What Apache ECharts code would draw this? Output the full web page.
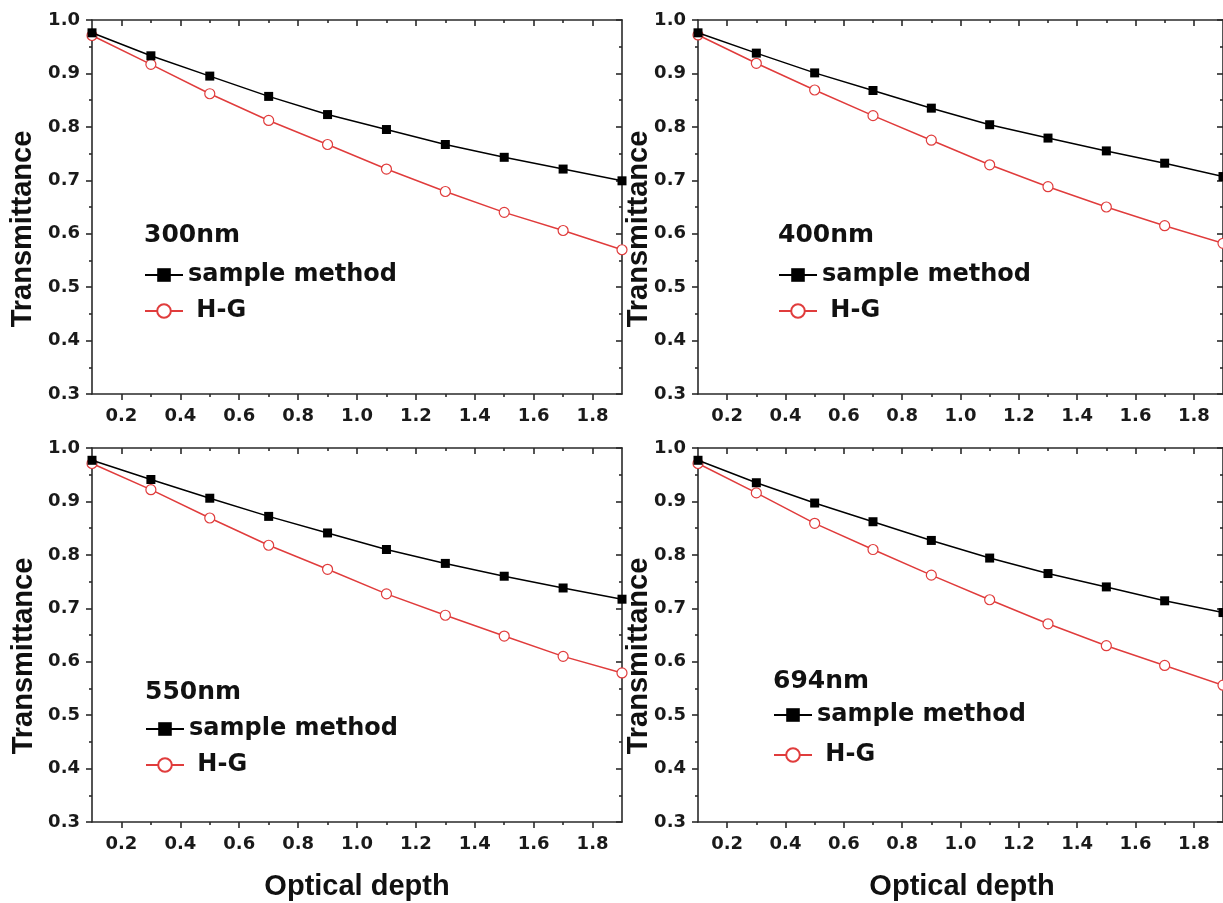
<!DOCTYPE html>
<html>
<head>
    <meta charset="utf-8">
    <title>Transmittance vs optical depth</title>
    <script src="https://cdn.jsdelivr.net/npm/echarts@6.0.0/dist/echarts.min.js"></script>
    <style>
        * {
          margin: 0;
          padding: 0;
        }
        body {
            background-color: #fff;
        }
        #main {
            width: 1223px;
            height: 903px;
        }
    </style>
</head>
<body>
<div id="main"></div>
<script>
    // optical depth values where the points sit
    const depths = [0.1, 0.3, 0.5, 0.7, 0.9, 1.1, 1.3, 1.5, 1.7, 1.9];
    const xMajorTicks = [0.2, 0.4, 0.6, 0.8, 1.0, 1.2, 1.4, 1.6, 1.8];
    const xMinorTicks = [0.3, 0.5, 0.7, 0.9, 1.1, 1.3, 1.5, 1.7];

    const panelNames = ['300nm', '400nm', '550nm', '694nm'];

    const sample300 = [0.976, 0.933, 0.895, 0.857, 0.823, 0.795, 0.767, 0.743, 0.721, 0.699];
    const hg300     = [0.971, 0.917, 0.862, 0.812, 0.767, 0.721, 0.679, 0.640, 0.606, 0.570];
    const sample400 = [0.976, 0.938, 0.901, 0.868, 0.835, 0.804, 0.779, 0.755, 0.732, 0.707];
    const hg400     = [0.972, 0.919, 0.869, 0.821, 0.775, 0.729, 0.688, 0.650, 0.615, 0.582];
    const sample550 = [0.977, 0.941, 0.906, 0.872, 0.841, 0.810, 0.784, 0.760, 0.738, 0.717];
    const hg550     = [0.971, 0.922, 0.869, 0.818, 0.773, 0.727, 0.687, 0.648, 0.610, 0.579];
    const sample694 = [0.977, 0.935, 0.897, 0.862, 0.827, 0.794, 0.765, 0.740, 0.714, 0.692];
    const hg694     = [0.971, 0.916, 0.859, 0.810, 0.762, 0.716, 0.671, 0.630, 0.593, 0.556];

    const sampleSets = [sample300, sample400, sample550, sample694];
    const hgSets = [hg300, hg400, hg550, hg694];

    const axisColor = '#2a2a2a';
    const red = '#e03c3c';
    const tickFont = 'DejaVu Sans';

    // panel layout: grid box, panel title spot, legend spot, axis title spots
    const panels = [
        { left: 92,  top: 20,  title: [144, 223], legend: [144, 263], gap: 12, yName: [23, 229],  xName: null },
        { left: 698, top: 20,  title: [778, 223], legend: [778, 263], gap: 12, yName: [639, 229], xName: null },
        { left: 92,  top: 448, title: [145, 680], legend: [145, 717], gap: 12, yName: [24, 656],  xName: [357, 887] },
        { left: 698, top: 448, title: [773, 669], legend: [773, 703], gap: 16, yName: [639, 656], xName: [962, 887] }
    ];

    const grid = [], xAxis = [], yAxis = [], series = [], title = [], legend = [], graphic = [];

    panels.forEach((p, g) => {
        grid.push({ left: p.left, top: p.top, width: 530, height: 374 });

        const baseX = { type: 'value', gridIndex: g, min: 0.1, max: 1.9, splitLine: { show: false } };
        const lineStyle = { color: axisColor, width: 1.6 };
        // bottom axis: major ticks + labels
        xAxis.push(Object.assign({}, baseX, {
            position: 'bottom',
            axisLine: { show: true, onZero: false, lineStyle: lineStyle },
            axisTick: { show: true, inside: false, length: 6, customValues: xMajorTicks, lineStyle: lineStyle },
            axisLabel: {
                show: true, customValues: xMajorTicks, margin: 13,
                color: '#1a1a1a', fontFamily: tickFont, fontWeight: 'bold', fontSize: 18,
                formatter: v => v.toFixed(1)
            }
        }));
        // bottom axis: minor ticks
        xAxis.push(Object.assign({}, baseX, {
            position: 'bottom',
            axisLine: { show: false },
            axisTick: { show: true, inside: false, length: 3, customValues: xMinorTicks, lineStyle: lineStyle },
            axisLabel: { show: false }
        }));
        // top frame: major ticks pointing in
        xAxis.push(Object.assign({}, baseX, {
            position: 'top',
            axisLine: { show: true, onZero: false, lineStyle: lineStyle },
            axisTick: { show: true, inside: true, length: 6, customValues: xMajorTicks, lineStyle: lineStyle },
            axisLabel: { show: false }
        }));
        // top frame: minor ticks
        xAxis.push(Object.assign({}, baseX, {
            position: 'top',
            axisLine: { show: false },
            axisTick: { show: true, inside: true, length: 3, customValues: xMinorTicks, lineStyle: lineStyle },
            axisLabel: { show: false }
        }));

        const baseY = { type: 'value', gridIndex: g, min: 0.3, max: 1.0, interval: 0.1, splitLine: { show: false } };
        yAxis.push(Object.assign({}, baseY, {
            position: 'left',
            axisLine: { show: true, onZero: false, lineStyle: lineStyle },
            axisTick: { show: true, inside: false, length: 6, lineStyle: lineStyle },
            minorTick: { show: true, splitNumber: 2, length: 3, lineStyle: lineStyle },
            axisLabel: {
                margin: 12, color: '#1a1a1a', fontFamily: tickFont, fontWeight: 'bold', fontSize: 18,
                formatter: v => v.toFixed(1)
            }
        }));
        yAxis.push(Object.assign({}, baseY, {
            position: 'right',
            axisLine: { show: true, onZero: false, lineStyle: lineStyle },
            axisTick: { show: true, inside: true, length: 6, lineStyle: lineStyle },
            minorTick: { show: true, splitNumber: 2, length: 3, lineStyle: lineStyle },
            axisLabel: { show: false }
        }));

        series.push({
            name: 'sample method',
            type: 'line',
            xAxisIndex: g * 4,
            yAxisIndex: g * 2,
            data: depths.map((d, i) => [d, sampleSets[g][i]]),
            symbol: 'rect',
            symbolSize: 9,
            lineStyle: { color: '#000', width: 1.5 },
            itemStyle: { color: '#000' },
            z: 3
        });
        series.push({
            name: ' H-G',
            type: 'line',
            xAxisIndex: g * 4,
            yAxisIndex: g * 2,
            data: depths.map((d, i) => [d, hgSets[g][i]]),
            symbol: 'circle',
            symbolSize: 10,
            lineStyle: { color: red, width: 1.5 },
            itemStyle: { color: '#fff', borderColor: red, borderWidth: 1.2 },
            z: 2
        });

        title.push({
            text: panelNames[g],
            left: p.title[0],
            top: p.title[1],
            padding: 0,
            textStyle: { fontFamily: tickFont, fontWeight: 'bold', fontSize: 25, color: '#111' }
        });

        legend.push({
            data: ['sample method', ' H-G'],
            orient: 'vertical',
            left: p.legend[0],
            top: p.legend[1],
            padding: 0,
            itemGap: p.gap,
            itemWidth: 38,
            itemHeight: 17,
            selectedMode: false,
            textStyle: { fontFamily: tickFont, fontWeight: 'bold', fontSize: 24, color: '#111' }
        });

        graphic.push({
            type: 'text',
            x: p.yName[0],
            y: p.yName[1],
            rotation: Math.PI / 2,
            style: {
                text: 'Transmittance',
                x: 0, y: 0,
                align: 'center',
                verticalAlign: 'middle',
                font: 'bold 29px "Liberation Sans", Arial',
                fill: '#111'
            }
        });
        if (p.xName) {
            graphic.push({
                type: 'text',
                x: p.xName[0],
                y: p.xName[1],
                style: {
                    text: 'Optical depth',
                    x: 0, y: 0,
                    align: 'center',
                    verticalAlign: 'middle',
                    font: 'bold 29px "Liberation Sans", Arial',
                    fill: '#111'
                }
            });
        }
    });

    const myChart = echarts.init(document.getElementById('main'), null, { renderer: 'canvas' });

    const option = {
        backgroundColor: '#fff',
        animation: false,
        title: title,
        legend: legend,
        grid: grid,
        xAxis: xAxis,
        yAxis: yAxis,
        series: series,
        graphic: graphic
    };

    myChart.setOption(option);
    window.addEventListener('resize', () => myChart.resize());
</script>
</body>
</html>
